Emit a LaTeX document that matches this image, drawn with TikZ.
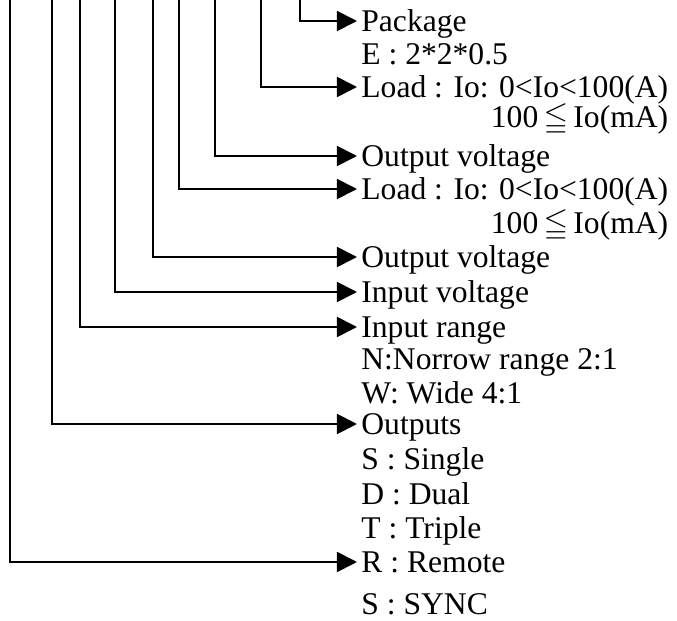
\documentclass[tikz,border=0pt]{standalone}
\usepackage{amssymb}
\usepackage{fontspec}
\setmainfont{Liberation Serif}
\usetikzlibrary{arrows.meta}

\tikzset{
  lbl/.style={inner xsep=2pt, inner ysep=0pt, text height=10.5pt, text depth=0pt,
    anchor=west, font=\fontsize{15.8}{17}\selectfont},
  conn/.style={line width=0.9pt, -{Triangle[length=10pt,width=10pt]}},
}

\begin{document}
\begin{tikzpicture}[x=0.5pt,y=-0.5pt]
  \useasboundingbox (0,0) rectangle (677,621);

  % labels
  \node[lbl] (pkg)   at (357,21)  {Package};
  \node[lbl] (pkgE)  at (357,54)  {E : 2*2*0.5};
  \node[lbl] (loadA) at (357,87)  {Load : Io: 0<Io<100(A)};
  \coordinate (yA) at (0,117);
  \node[lbl, anchor=east] (loadAm) at (loadA.east |- yA) {100\,$\leqq$\,Io(mA)};
  \node[lbl] (voutA) at (357,156) {Output voltage};
  \node[lbl] (loadB) at (357,189) {Load : Io: 0<Io<100(A)};
  \coordinate (yB) at (0,223);
  \node[lbl, anchor=east] (loadBm) at (loadB.east |- yB) {100\,$\leqq$\,Io(mA)};
  \node[lbl] (voutB) at (357,257) {Output voltage};
  \node[lbl] (vin)   at (357,292) {Input voltage};
  \node[lbl] (rng)   at (357,327) {Input range};
  \node[lbl] (rngN)  at (357,359) {N:Norrow range 2:1};
  \node[lbl] (rngW)  at (357,393) {W: Wide 4:1};
  \node[lbl] (outs)  at (357,424) {Outputs};
  \node[lbl] (outS)  at (357,459) {S : Single};
  \node[lbl] (outD)  at (357,494) {D : Dual};
  \node[lbl] (outT)  at (357,528) {T : Triple};
  \node[lbl] (rem)   at (357,562) {R : Remote};
  \node[lbl] (sync)  at (357,604) {S : SYNC};

  % tops of the leads
  \coordinate (tPkg)   at (300,0);
  \coordinate (tLoadA) at (261,0);
  \coordinate (tVoutA) at (215,0);
  \coordinate (tLoadB) at (179,0);
  \coordinate (tVoutB) at (153,0);
  \coordinate (tVin)   at (115,0);
  \coordinate (tRng)   at (80,0);
  \coordinate (tOuts)  at (52,0);
  \coordinate (tRem)   at (10,0);

  % leads
  \draw[conn] (tPkg)   |- (pkg.west);
  \draw[conn] (tLoadA) |- (loadA.west);
  \draw[conn] (tVoutA) |- (voutA.west);
  \draw[conn] (tLoadB) |- (loadB.west);
  \draw[conn] (tVoutB) |- (voutB.west);
  \draw[conn] (tVin)   |- (vin.west);
  \draw[conn] (tRng)   |- (rng.west);
  \draw[conn] (tOuts)  |- (outs.west);
  \draw[conn] (tRem)   |- (rem.west);
\end{tikzpicture}
\end{document}
